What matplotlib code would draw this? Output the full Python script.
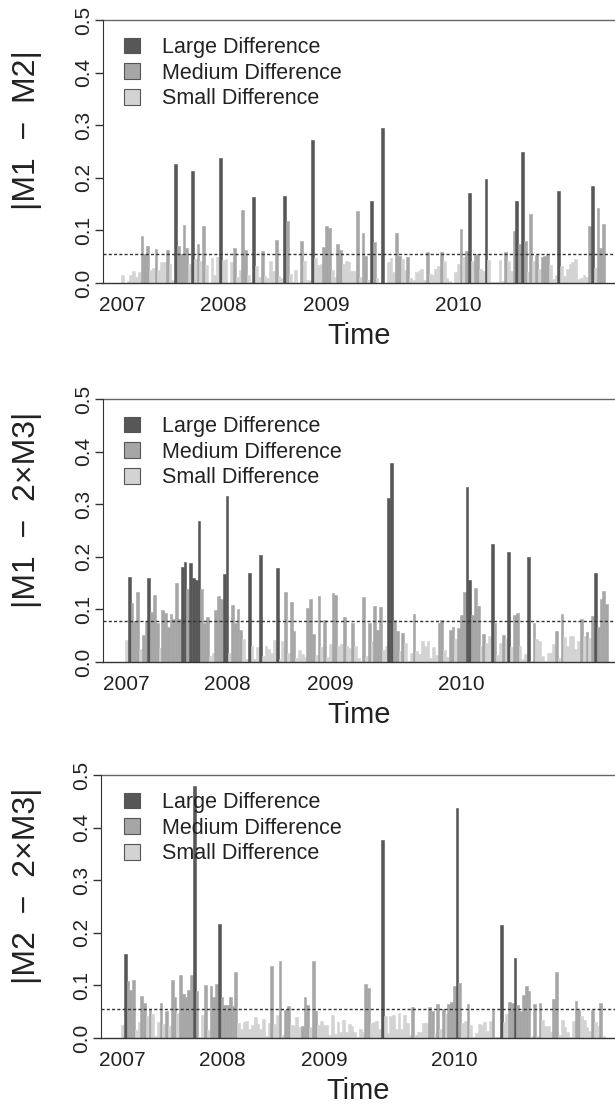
import numpy as np
import matplotlib.pyplot as plt
from matplotlib.patches import Patch

plt.rcParams['font.family'] = ['Liberation Sans', 'DejaVu Sans']

# weekly absolute differences between the model series
m1_m2 = [
    0.016, 0.0, 0.003, 0.016, 0.023, 0.011, 0.020, 0.090, 0.055, 0.071,
    0.025, 0.029, 0.065, 0.025, 0.039, 0.039, 0.062, 0.037, 0.006, 0.227,
    0.071, 0.055, 0.111, 0.067, 0.037, 0.212, 0.046, 0.075, 0.042, 0.109,
    0.035, 0.0, 0.048, 0.016, 0.050, 0.238, 0.044, 0.046, 0.0, 0.039,
    0.067, 0.012, 0.025, 0.139, 0.062, 0.016, 0.002, 0.164, 0.033, 0.012,
    0.060, 0.014, 0.010, 0.042, 0.023, 0.082, 0.014, 0.010, 0.166, 0.117,
    0.018, 0.002, 0.025, 0.0, 0.080, 0.042, 0.006, 0.006, 0.271, 0.048,
    0.035, 0.037, 0.069, 0.109, 0.105, 0.025, 0.012, 0.075, 0.063, 0.037,
    0.042, 0.039, 0.022, 0.023, 0.136, 0.012, 0.096, 0.052, 0.006, 0.155,
    0.077, 0.010, 0.0, 0.294, 0.0, 0.039, 0.048, 0.020, 0.096, 0.052,
    0.046, 0.025, 0.050, 0.010, 0.006, 0.020, 0.023, 0.027, 0.006, 0.058,
    0.018, 0.016, 0.027, 0.033, 0.058, 0.042, 0.010, 0.003, 0.0, 0.020,
    0.037, 0.103, 0.050, 0.060, 0.172, 0.041, 0.054, 0.056, 0.027, 0.022,
    0.198, 0.044, 0.002, 0.002, 0.002, 0.044, 0.004, 0.058, 0.042, 0.023,
    0.099, 0.155, 0.075, 0.250, 0.079, 0.020, 0.132, 0.042, 0.054, 0.027,
    0.050, 0.052, 0.056, 0.035, 0.008, 0.016, 0.174, 0.033, 0.014, 0.027,
    0.037, 0.039, 0.046, 0.008, 0.010, 0.015, 0.012, 0.108, 0.185, 0.028,
    0.143, 0.067, 0.112,
]
m1_m2_cls = ("SSSSSSSMMM SSMSSSMSSL MMMMSLSMSM SSSSSLSSSS MSSMMSSLSS "
             "MSSSSMSSLM SSSSMSSSLS SSMMMSSMMS SSSSMSMMSL MSSLSSSSMM "
             "SSMSSSSSSM SSSSMSSSSS SMSMLSMMSS LSSSSSSMSS MLMLMSMSMS "
             "MMMSSSLSSS SSSSSSSMLS MMM")

m1_2m3 = [
    0.041, 0.161, 0.112, 0.077, 0.134, 0.024, 0.051, 0.077, 0.159, 0.096,
    0.127, 0.074, 0.026, 0.098, 0.093, 0.066, 0.091, 0.081, 0.150, 0.081,
    0.180, 0.190, 0.138, 0.188, 0.159, 0.155, 0.269, 0.138, 0.074, 0.085,
    0.011, 0.018, 0.098, 0.125, 0.119, 0.167, 0.316, 0.018, 0.108, 0.075,
    0.100, 0.060, 0.043, 0.005, 0.170, 0.030, 0.005, 0.028, 0.203, 0.011,
    0.030, 0.024, 0.018, 0.041, 0.178, 0.005, 0.039, 0.134, 0.018, 0.115,
    0.058, 0.007, 0.022, 0.015, 0.009, 0.102, 0.119, 0.054, 0.013, 0.125,
    0.028, 0.079, 0.009, 0.035, 0.132, 0.127, 0.030, 0.034, 0.085, 0.031,
    0.026, 0.075, 0.031, 0.007, 0.002, 0.123, 0.011, 0.075, 0.039, 0.107,
    0.060, 0.104, 0.022, 0.030, 0.312, 0.378, 0.079, 0.058, 0.020, 0.056,
    0.037, 0.002, 0.018, 0.091, 0.020, 0.015, 0.039, 0.030, 0.039, 0.007,
    0.028, 0.013, 0.074, 0.079, 0.022, 0.009, 0.060, 0.066, 0.043, 0.064,
    0.089, 0.134, 0.333, 0.155, 0.089, 0.140, 0.106, 0.031, 0.054, 0.037,
    0.049, 0.224, 0.075, 0.013, 0.037, 0.051, 0.043, 0.210, 0.028, 0.089,
    0.094, 0.031, 0.005, 0.015, 0.199, 0.002, 0.075, 0.043, 0.039, 0.011,
    0.002, 0.018, 0.018, 0.035, 0.058, 0.007, 0.091, 0.047, 0.030, 0.049,
    0.049, 0.024, 0.039, 0.081, 0.049, 0.057, 0.045, 0.088, 0.170, 0.067,
    0.120, 0.135, 0.110,
]
m1_2m3_cls = ("SLMMMSMMLM MMSMMMMMMM LLMLLLLMMM SSMMMLLSMM MMSSLSSSLS "
              "SSSSLSSMSM MSSSSMMMSM SMSSMMSSMS SMSSSMSMSM MMSSLLMMSM "
              "SSSMSSSSSS SSMMSSMMSM MMLLMMMSMS SLMSSMSLSM MSSSLSMSSS "
              "SSSSMSMSSS SSSMSMSMLM MMM")

m2_2m3 = [
    0.025, 0.160, 0.109, 0.092, 0.111, 0.016, 0.031, 0.079, 0.067, 0.041,
    0.055, 0.046, 0.003, 0.031, 0.067, 0.027, 0.052, 0.022, 0.111, 0.077,
    0.048, 0.119, 0.083, 0.077, 0.092, 0.119, 0.479, 0.090, 0.002, 0.043,
    0.100, 0.016, 0.098, 0.077, 0.103, 0.216, 0.077, 0.063, 0.062, 0.077,
    0.060, 0.126, 0.029, 0.018, 0.031, 0.033, 0.018, 0.025, 0.039, 0.027,
    0.018, 0.037, 0.004, 0.029, 0.136, 0.027, 0.043, 0.147, 0.006, 0.054,
    0.060, 0.024, 0.025, 0.039, 0.020, 0.022, 0.077, 0.062, 0.020, 0.147,
    0.052, 0.025, 0.033, 0.025, 0.024, 0.006, 0.044, 0.008, 0.031, 0.012,
    0.035, 0.012, 0.027, 0.022, 0.012, 0.002, 0.018, 0.012, 0.102, 0.096,
    0.029, 0.031, 0.033, 0.018, 0.376, 0.041, 0.010, 0.041, 0.043, 0.018,
    0.048, 0.018, 0.043, 0.029, 0.006, 0.058, 0.006, 0.012, 0.012, 0.029,
    0.029, 0.058, 0.052, 0.010, 0.065, 0.018, 0.056, 0.046, 0.065, 0.069,
    0.098, 0.437, 0.105, 0.029, 0.033, 0.065, 0.024, 0.002, 0.010, 0.027,
    0.025, 0.031, 0.014, 0.033, 0.054, 0.002, 0.002, 0.214, 0.031, 0.046,
    0.069, 0.067, 0.153, 0.062, 0.052, 0.081, 0.098, 0.090, 0.003, 0.065,
    0.004, 0.067, 0.035, 0.022, 0.022, 0.012, 0.075, 0.126, 0.005, 0.035,
    0.020, 0.012, 0.002, 0.033, 0.071, 0.054, 0.041, 0.035, 0.020, 0.014,
    0.054, 0.031, 0.022, 0.067, 0.004,
]
m2_2m3_cls = ("SLMMMSSMMS MSSSMSMSMM SMMMMMLMSS MSMMMLMMMM MMSSSSSSSS "
              "SSSSMSSMSM MSSSSMMMSM MSSSSSSSSS SSSSSSSSMM SSSSLSSSSS "
              "SSSSSMSSSS SMMSMSMSMM MLMSSMSSSS SSSSMSSLSS MMLMMMMMSM "
              "SMSSSSMMSS SSSSMMSSSS MSSMS")

thresholds = [0.055, 0.077, 0.055]
year_labels = ['2007', '2008', '2009', '2010']
year_weeks = [0, 36, 73, 120]
ylabels = ['|M1  \u2212  M2|', '|M1  \u2212  2\u00d7M3|', '|M2  \u2212  2\u00d7M3|']
legend_labels = ['Large Difference', 'Medium Difference', 'Small Difference']

colors = {'L': '#575757', 'M': '#a6a6a6', 'S': '#d3d3d3'}

W, H = 615, 1112
fig = plt.figure(figsize=(W / 100, H / 100), dpi=100)

# pixel layout of each panel: axis x, first bar x, last bar x, top y, zero y
panels = [
    (m1_m2, m1_m2_cls, 103, 121, 605, 20, 283),
    (m1_2m3, m1_2m3_cls, 103, 125, 608, 399, 662),
    (m2_2m3, m2_2m3_cls, 101, 121, 605, 775, 1038),
]

for k, (vals, cls, ax_x, bar_l, bar_r, top_y, zero_y) in enumerate(panels):
    cls = cls.replace(' ', '')
    vals = np.array(vals)
    n = len(vals)
    pitch = (bar_r - bar_l) / n
    bar_cols = [colors[c] for c in cls]

    ax = fig.add_axes([ax_x / W, 1 - zero_y / H, (W - ax_x) / W, (zero_y - top_y) / H])
    x = np.arange(n)
    ax.bar(x, vals, width=1.0, align='edge', color=bar_cols,
           edgecolor=bar_cols, linewidth=0.4)
    ax.set_xlim(-(bar_l - ax_x) / pitch, n + (W - bar_r) / pitch)
    ax.set_ylim(0, 0.5)

    ax.axhline(thresholds[k], color='#333333', lw=1.0, dashes=(2.2, 1.6))
    ax.axhline(0.5, color='#666666', lw=1.0, clip_on=False)
    ax.axhline(0.0, color='#333333', lw=1.0, clip_on=False)

    for s in ['top', 'right', 'bottom']:
        ax.spines[s].set_visible(False)
    ax.spines['left'].set_color('#333333')
    ax.spines['left'].set_bounds(0, 0.5)

    ax.set_yticks(np.arange(0, 0.51, 0.1))
    ax.set_yticklabels(['%.1f' % v for v in np.arange(0, 0.51, 0.1)])
    ax.tick_params(axis='y', length=8 * 0.72, width=1.0, color='#333333',
                   labelsize=15, pad=1.5, labelrotation=90, labelcolor='#222222')
    for lab in ax.get_yticklabels():
        lab.set_va('center')

    ax.set_xticks(np.array(year_weeks) + 0.5)
    ax.set_xticklabels(year_labels)
    ax.tick_params(axis='x', length=0, labelsize=15, pad=9.5, labelcolor='#222222')

    ax.set_xlabel('Time', fontsize=21, color='#222222', labelpad=5)
    ax.set_ylabel(ylabels[k], fontsize=23, color='#222222')
    ax.yaxis.set_label_coords((42 - ax_x) / (W - ax_x), 0.58)

    handles = [Patch(facecolor=colors[c], edgecolor='#555555', linewidth=0.8) for c in 'LMS']
    ax.legend(handles, legend_labels, loc='upper left',
              bbox_to_anchor=((124 - ax_x) / (W - ax_x), 1 - 17 / (zero_y - top_y)),
              frameon=False, fontsize=15.5, borderpad=0, borderaxespad=0,
              handlelength=0.75, handleheight=0.75, handletextpad=1.0,
              labelspacing=0.22, labelcolor='#222222')

fig.savefig('out.png', dpi=100)
